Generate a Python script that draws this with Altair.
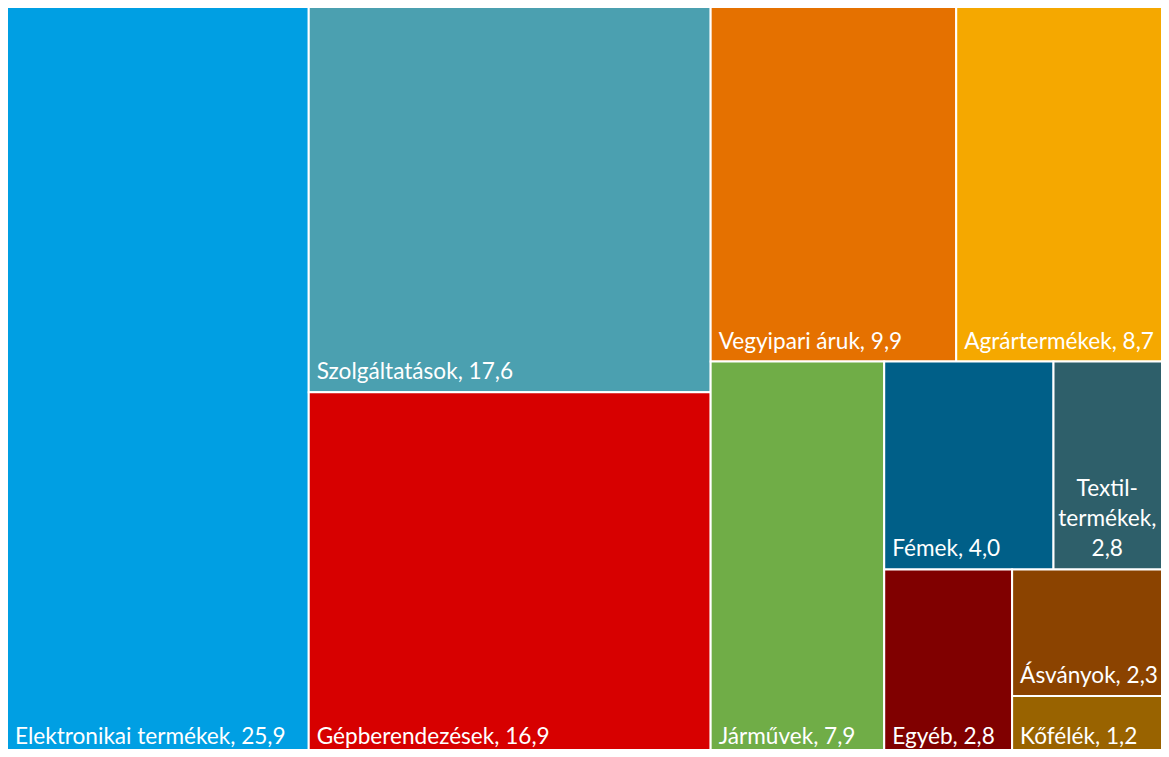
import altair as alt
import pandas as pd

# ---- data ----
names = ["Elektronikai termékek", "Szolgáltatások", "Gépberendezések",
         "Vegyipari áruk", "Agrártermékek", "Járművek", "Fémek",
         "Textil-termékek", "Egyéb", "Ásványok", "Kőfélék"]
values = [25.9, 17.6, 16.9, 9.9, 8.7, 7.9, 4.0, 2.8, 2.8, 2.3, 1.2]
colors = ["#009FE3", "#4BA0B0", "#D70000", "#E57100", "#F5A800", "#70AD47",
          "#005F88", "#2E5F6A", "#800000", "#8B4300", "#996300"]
# number of items in each strip of the treemap (order of the values)
strip_sizes = [1, 2, 2, 1, 2, 1, 1, 1]
wrapped = {"Textil-termékek"}

# full treemap box (the reference is cropped at its right and bottom edges)
LW, LH = 1165, 755
# visible plot area
PW, PH = 1153, 741
VIS_R = 1 + PW          # right edge of the visible area, in layout units
VIS_B = 1 + PH + 8      # lowest position usable for label anchoring

# ---- treemap layout: strips laid along the shorter side ----
total = sum(values)
areas = [v / total * LW * LH for v in values]
rects = []
x0, y0, x1, y1 = 0.0, 0.0, float(LW), float(LH)
i = 0
for n in strip_sizes:
    grp = areas[i:i + n]
    s = sum(grp)
    w, h = x1 - x0, y1 - y0
    if w >= h:  # column on the left, stacked vertically
        cw = s / h
        yy = y0
        for a in grp:
            hh = a / cw
            rects.append((x0, yy, x0 + cw, yy + hh))
            yy += hh
        x0 += cw
    else:  # row at the top, side by side
        rh = s / w
        xx = x0
        for a in grp:
            ww = a / rh
            rects.append((xx, y0, xx + ww, y0 + rh))
            xx += ww
        y0 += rh
    i += n

rows = []
for nm, v, c, r in zip(names, values, colors, rects):
    vs = f"{v:.1f}".replace(".", ",")
    if nm in wrapped:
        label = nm.replace("-", "-\n") + ",\n" + vs
        al = "center"
        lx = (r[0] + min(r[2], VIS_R)) / 2
    else:
        label = f"{nm}, {vs}"
        al = "left"
        lx = r[0]
    rows.append(dict(name=nm, value=v, color=c, x=r[0], y=r[1], x2=r[2], y2=r[3],
                     label=label, align=al, lx=lx, ly=min(r[3], VIS_B)))
df = pd.DataFrame(rows)

xs = alt.Scale(domain=[1, 1 + PW], nice=False, zero=False)
ys = alt.Scale(domain=[1, 1 + PH], nice=False, zero=False, reverse=True)

FONT = "Lato"
FS = 22.6
LINE_H = 30

base = alt.Chart(df)
boxes = base.mark_rect(stroke="white", strokeWidth=2).encode(
    x=alt.X("x:Q", scale=xs, axis=None),
    x2="x2:Q",
    y=alt.Y("y:Q", scale=ys, axis=None),
    y2="y2:Q",
    color=alt.Color("color:N", scale=None, legend=None),
    tooltip=["name:N", "value:Q"],
)

left_labels = base.transform_filter(alt.datum.align == "left").mark_text(
    align="left", baseline="alphabetic", dx=8, dy=-13, font=FONT, fontSize=FS,
    color="white",
).encode(x=alt.X("lx:Q", scale=xs, axis=None),
         y=alt.Y("ly:Q", scale=ys, axis=None), text="label:N")

center_labels = base.transform_filter(alt.datum.align == "center").mark_text(
    align="center", baseline="alphabetic", dy=-13 - 2 * LINE_H, font=FONT,
    fontSize=FS, color="white", lineBreak="\n", lineHeight=LINE_H,
).encode(x=alt.X("lx:Q", scale=xs, axis=None),
         y=alt.Y("ly:Q", scale=ys, axis=None), text="label:N")

chart = alt.layer(boxes, left_labels, center_labels).properties(
    width=PW, height=PH, padding=0, autosize="none"
).configure_view(stroke=None)

chart.save("out.html", embed_options={"renderer": "svg", "actions": False})
